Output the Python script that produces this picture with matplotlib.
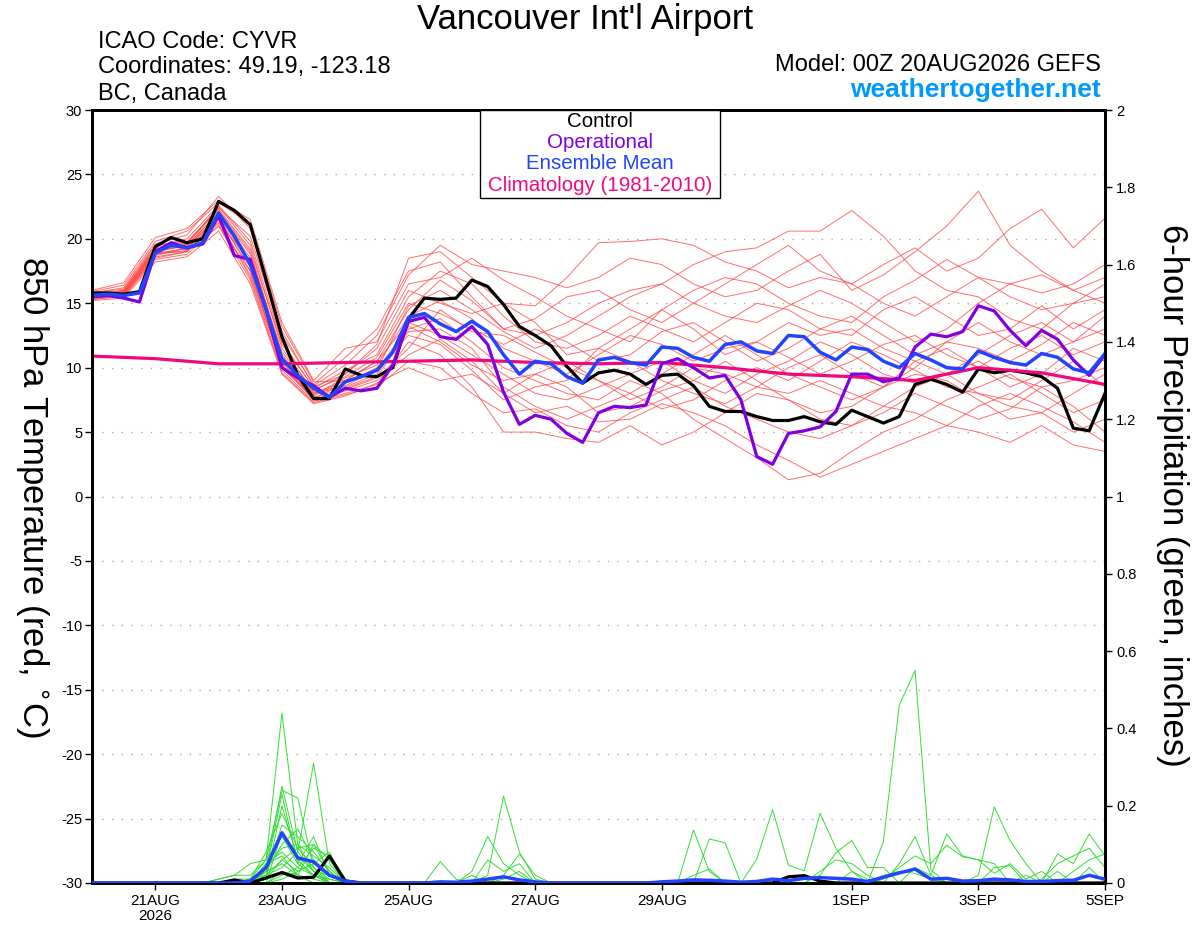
import numpy as np
import matplotlib
matplotlib.use('Agg')
import matplotlib.pyplot as plt
from matplotlib.patches import Rectangle

plt.rcParams['font.family'] = ['Liberation Sans', 'DejaVu Sans']
plt.rcParams['axes.unicode_minus'] = False

# ---- data ----
# time axis: hours after 00Z 20AUG2026
hours6 = np.arange(0, 385, 6)      # 65 six-hourly steps
hours12 = np.arange(0, 385, 12)    # 33 twelve-hourly steps (members)
hours24 = np.arange(0, 385, 24)    # 17 daily steps (climatology)

tick_hours = [24, 72, 120, 168, 216, 288, 336, 384]
tick_labels = ['21AUG\n2026', '23AUG', '25AUG', '27AUG', '29AUG', '1SEP', '3SEP', '5SEP']

# 850 hPa temperature, deg C
control_t = [15.8, 15.8, 15.7, 15.9, 19.4, 20.1, 19.7, 20.0, 22.9, 22.2, 21.1, 16.8, 12.4,
             9.4, 7.6, 7.6, 9.9, 9.4, 9.3, 10.0, 13.8, 15.4, 15.3, 15.4, 16.8, 16.3,
             14.9, 13.2, 12.5, 11.7, 10.1, 8.8, 9.6, 9.8, 9.5, 8.7, 9.4, 9.5, 8.6,
             7.0, 6.6, 6.6, 6.2, 5.9, 5.9, 6.2, 5.8, 5.6, 6.7, 6.2, 5.7, 6.2,
             8.7, 9.1, 8.7, 8.1, 9.9, 9.6, 9.8, 9.6, 9.3, 8.4, 5.3, 5.1, 8.0]
oper_t = [15.5, 15.6, 15.4, 15.1, 19.0, 19.7, 19.3, 19.6, 21.8, 18.7, 18.4, 14.5, 10.0,
          9.2, 8.6, 7.7, 8.4, 8.2, 8.4, 10.2, 13.6, 13.9, 12.4, 12.2, 13.2, 11.8,
          8.1, 5.6, 6.3, 6.0, 4.9, 4.2, 6.5, 7.0, 6.9, 7.1, 10.3, 10.7, 10.0,
          9.2, 9.4, 7.5, 3.1, 2.5, 4.9, 5.1, 5.4, 6.6, 9.5, 9.5, 8.9, 9.2,
          11.6, 12.6, 12.4, 12.8, 14.8, 14.4, 12.9, 11.7, 12.9, 12.2, 10.6, 9.4, 11.0]
mean_t = [15.6, 15.7, 15.6, 15.8, 18.9, 19.5, 19.3, 19.7, 22.0, 20.2, 18.0, 14.5, 10.7,
          9.4, 8.4, 7.7, 8.9, 9.3, 9.8, 11.2, 13.9, 14.2, 13.4, 12.8, 13.6, 12.8,
          11.0, 9.5, 10.5, 10.3, 9.3, 8.8, 10.6, 10.8, 10.4, 10.2, 11.6, 11.5, 10.8,
          10.5, 11.8, 12.0, 11.3, 11.1, 12.5, 12.4, 11.2, 10.6, 11.6, 11.4, 10.5, 10.0,
          11.1, 10.6, 10.0, 9.9, 11.3, 10.8, 10.4, 10.2, 11.1, 10.8, 9.9, 9.6, 11.1]
clim_t = [10.9, 10.7, 10.3, 10.3, 10.4, 10.5, 10.6, 10.4, 10.3, 10.4, 10.0, 9.5,
          9.3, 9.0, 10.0, 9.6, 8.7]

member_t = [
    [15.8, 16.2, 19.6, 20.3, 23.3, 20.8, 12.8, 8.6, 10.2, 12.5, 17.2,
     19.5, 18.0, 17.5, 17.0, 16.2, 17.0, 18.5, 18.0, 16.5, 15.5, 16.0,
     17.5, 18.8, 16.0, 17.2, 19.0, 21.0, 23.7, 19.5, 17.5, 16.0, 17.0],
    [15.5, 15.8, 19.0, 19.6, 22.5, 19.5, 11.5, 8.2, 9.5, 11.8, 18.5,
     19.0, 17.0, 15.0, 14.8, 17.0, 19.7, 19.8, 20.0, 19.5, 18.2, 17.5,
     16.2, 17.0, 16.5, 15.0, 14.0, 15.5, 17.0, 16.5, 15.8, 16.5, 18.0],
    [15.9, 16.4, 19.8, 20.6, 22.8, 21.2, 13.2, 8.9, 9.0, 10.5, 14.5,
     16.8, 15.2, 13.0, 12.5, 13.5, 15.0, 16.0, 16.5, 18.0, 19.0, 19.3,
     20.6, 20.6, 22.2, 20.2, 17.5, 16.0, 15.5, 13.8, 13.0, 15.0, 16.5],
    [15.3, 15.5, 18.4, 18.8, 21.0, 17.5, 10.2, 7.6, 8.2, 9.0, 11.0,
     12.2, 10.5, 8.0, 6.5, 7.0, 5.8, 6.0, 7.2, 6.5, 5.5, 4.0,
     2.8, 1.5, 2.5, 3.5, 4.5, 5.5, 5.0, 4.2, 5.5, 4.0, 3.5],
    [15.4, 15.6, 18.6, 19.0, 21.5, 17.0, 9.8, 7.4, 8.0, 8.7, 12.0,
     11.0, 8.5, 5.0, 5.0, 4.5, 4.2, 5.5, 4.0, 5.0, 6.5, 8.0,
     7.5, 6.0, 5.5, 6.5, 8.0, 7.0, 6.0, 6.8, 8.5, 7.0, 5.0],
    [15.6, 16.0, 19.2, 19.5, 22.0, 18.5, 10.8, 8.0, 8.5, 9.5, 13.0,
     13.8, 12.0, 10.0, 9.0, 8.0, 7.5, 9.0, 8.0, 6.0, 4.5, 3.0,
     1.3, 1.8, 3.5, 5.0, 6.0, 7.5, 8.5, 9.5, 8.0, 6.5, 7.5],
    [15.7, 15.9, 19.4, 20.0, 22.6, 19.8, 12.0, 8.4, 9.8, 11.0, 15.5,
     17.5, 16.5, 14.0, 12.0, 11.5, 12.5, 14.0, 13.0, 12.0, 13.5, 15.0,
     14.5, 13.0, 12.5, 14.5, 15.5, 14.0, 12.5, 13.0, 14.8, 13.0, 14.5],
    [15.5, 15.7, 18.9, 19.2, 21.8, 18.0, 10.5, 7.9, 9.2, 10.2, 14.0,
     15.2, 13.8, 11.5, 10.5, 9.5, 11.0, 12.5, 11.8, 10.5, 11.5, 12.0,
     10.8, 9.5, 10.5, 11.8, 12.5, 11.0, 10.0, 11.5, 12.5, 11.0, 12.0],
    [15.6, 15.9, 19.0, 19.5, 21.5, 17.8, 10.0, 7.8, 9.0, 10.5, 13.5,
     12.5, 11.0, 9.5, 8.0, 7.5, 8.5, 9.5, 10.5, 9.0, 8.0, 9.5,
     10.5, 12.0, 11.0, 9.5, 8.8, 9.5, 10.5, 9.2, 8.5, 9.0, 10.0],
    [15.3, 15.6, 18.5, 19.0, 21.2, 17.2, 10.2, 7.5, 8.3, 9.2, 11.5,
     14.5, 12.8, 12.5, 11.2, 10.0, 9.0, 8.0, 9.5, 11.0, 12.5, 11.0,
     9.5, 8.5, 7.5, 8.5, 10.0, 12.0, 11.5, 10.5, 11.8, 13.5, 12.5],
    [15.8, 16.1, 19.5, 19.8, 22.2, 19.0, 11.0, 8.1, 8.6, 9.8, 14.8,
     16.0, 14.5, 12.8, 11.5, 12.5, 14.0, 15.5, 16.5, 15.0, 14.0, 13.5,
     14.8, 16.0, 15.0, 13.5, 12.0, 13.0, 15.0, 16.5, 17.2, 16.0, 15.0],
    [15.4, 15.6, 18.8, 19.1, 21.0, 16.8, 9.6, 7.3, 7.9, 8.5, 10.5,
     10.0, 8.0, 6.5, 6.8, 5.5, 5.0, 6.5, 7.5, 8.5, 7.0, 6.0,
     5.0, 4.5, 5.5, 7.0, 6.5, 5.5, 7.0, 8.0, 7.0, 5.8, 4.2],
    [15.7, 16.0, 19.3, 19.7, 22.4, 20.2, 12.5, 8.7, 10.8, 13.0, 17.5,
     18.2, 15.5, 13.0, 13.8, 15.5, 16.0, 14.5, 13.5, 15.0, 16.5, 18.0,
     19.5, 17.5, 16.5, 18.0, 19.3, 17.5, 18.5, 20.8, 22.3, 19.3, 21.6],
    [15.5, 15.8, 18.7, 19.3, 21.3, 18.3, 10.4, 7.7, 8.4, 9.3, 12.8,
     13.0, 11.5, 8.5, 7.0, 6.0, 7.0, 8.0, 6.8, 7.5, 9.0, 10.0,
     9.0, 10.5, 12.0, 11.0, 9.8, 8.5, 8.0, 7.5, 9.0, 10.5, 8.5],
    [15.6, 15.9, 19.1, 19.4, 22.1, 18.8, 11.2, 8.3, 9.3, 10.8, 15.0,
     14.2, 13.0, 11.8, 13.0, 12.0, 10.5, 11.0, 12.8, 13.5, 12.0, 10.5,
     11.5, 13.0, 14.0, 12.5, 11.0, 12.0, 13.5, 12.0, 11.0, 12.0, 13.0],
    [15.2, 15.4, 18.2, 18.6, 20.6, 16.5, 9.5, 7.2, 7.8, 8.8, 10.0,
     9.0, 9.5, 8.0, 9.5, 10.5, 9.0, 7.5, 8.5, 10.0, 9.5, 8.5,
     8.0, 9.0, 8.0, 7.0, 8.5, 9.5, 8.0, 7.0, 6.5, 8.0, 9.5],
    [16.0, 16.6, 20.1, 20.8, 23.0, 21.5, 13.5, 9.0, 11.5, 12.0, 16.5,
     17.0, 18.5, 16.8, 15.5, 14.0, 13.0, 12.0, 14.5, 16.0, 17.0, 16.5,
     15.0, 14.0, 13.5, 15.5, 16.8, 18.4, 17.0, 15.5, 14.5, 15.0, 15.5],
    [15.4, 15.7, 18.9, 19.0, 21.7, 17.5, 10.0, 7.6, 8.8, 10.0, 12.5,
     11.8, 9.8, 7.5, 8.5, 9.0, 11.5, 10.5, 9.0, 8.0, 7.2, 8.5,
     10.0, 11.0, 9.5, 8.5, 10.5, 11.5, 10.0, 8.5, 9.5, 11.5, 10.5],
    [15.6, 15.8, 19.2, 19.6, 22.3, 19.2, 11.8, 8.5, 9.5, 11.5, 16.0,
     15.0, 14.2, 15.0, 13.5, 11.0, 11.5, 13.0, 14.5, 13.0, 11.0, 12.0,
     13.5, 12.5, 13.0, 11.5, 10.5, 9.5, 11.0, 12.5, 13.5, 12.0, 14.0],
    [15.5, 15.7, 18.8, 19.3, 21.9, 18.2, 10.6, 8.0, 9.0, 9.8, 13.2,
     12.0, 10.2, 9.0, 9.5, 8.5, 6.5, 7.0, 8.2, 9.0, 10.5, 9.0,
     7.5, 6.5, 7.0, 8.5, 9.5, 9.0, 7.5, 6.0, 6.5, 5.0, 6.0],
]

# 6-hour precipitation, inches
control_p = [0, 0, 0, 0, 0, 0, 0, 0, 0, 0.008, 0, 0.013, 0.027,
             0.013, 0.015, 0.07, 0.005, 0, 0, 0, 0, 0, 0, 0, 0, 0,
             0, 0, 0, 0, 0, 0, 0, 0, 0, 0, 0, 0, 0,
             0, 0, 0, 0, 0, 0.016, 0.019, 0.005, 0, 0, 0, 0, 0,
             0, 0, 0, 0, 0, 0, 0, 0, 0, 0, 0, 0, 0]
mean_p = [0, 0, 0, 0, 0, 0, 0, 0, 0, 0, 0.005, 0.04, 0.13,
          0.065, 0.055, 0.02, 0.005, 0, 0, 0, 0, 0, 0.003, 0.002, 0.005, 0.01,
          0.016, 0.008, 0.003, 0, 0, 0, 0, 0, 0, 0, 0.003, 0.005, 0.008,
          0.007, 0.005, 0.002, 0.004, 0.01, 0.006, 0.012, 0.014, 0.012, 0.01, 0.004, 0.015, 0.026,
          0.036, 0.01, 0.012, 0.005, 0.006, 0.01, 0.008, 0.004, 0.004, 0.006, 0.007, 0.02, 0.01]

member_p = [
    [0, 0, 0, 0, 0, 0, 0, 0, 0.01, 0.02, 0.05, 0.06, 0.44,
     0.10, 0.03, 0, 0, 0, 0, 0, 0, 0, 0.055, 0.01, 0, 0,
     0, 0, 0, 0, 0, 0, 0, 0, 0, 0, 0, 0, 0,
     0, 0, 0, 0, 0, 0, 0, 0, 0, 0, 0, 0, 0,
     0, 0, 0, 0, 0, 0, 0, 0, 0, 0, 0, 0, 0],
    [0, 0, 0, 0, 0, 0, 0, 0, 0, 0, 0, 0.04, 0.25,
     0.08, 0.31, 0.05, 0, 0, 0, 0, 0, 0, 0, 0, 0.03, 0.12,
     0.05, 0.02, 0, 0, 0, 0, 0, 0, 0, 0, 0, 0, 0,
     0, 0, 0, 0, 0, 0, 0, 0, 0, 0, 0, 0, 0,
     0, 0, 0, 0, 0, 0, 0, 0, 0, 0, 0, 0, 0],
    [0, 0, 0, 0, 0, 0, 0, 0, 0, 0, 0.01, 0.06, 0.24,
     0.22, 0.04, 0.01, 0, 0, 0, 0, 0, 0, 0, 0, 0, 0.02,
     0.225, 0.08, 0.01, 0, 0, 0, 0, 0, 0, 0, 0, 0, 0,
     0, 0, 0, 0, 0, 0, 0, 0, 0, 0, 0, 0, 0,
     0, 0, 0, 0, 0, 0, 0, 0, 0, 0, 0, 0, 0],
    [0, 0, 0, 0, 0, 0, 0, 0, 0, 0, 0, 0.03, 0.23,
     0.05, 0.12, 0.02, 0, 0, 0, 0, 0, 0, 0, 0, 0, 0.06,
     0.03, 0.05, 0, 0, 0, 0, 0, 0, 0, 0, 0, 0, 0,
     0, 0, 0, 0, 0, 0, 0, 0, 0, 0, 0, 0, 0,
     0, 0, 0, 0, 0, 0, 0, 0, 0, 0, 0, 0, 0],
    [0, 0, 0, 0, 0, 0, 0, 0, 0, 0.01, 0.01, 0.08, 0.18,
     0.09, 0.10, 0.06, 0, 0, 0, 0, 0, 0, 0, 0, 0, 0,
     0.02, 0.075, 0.02, 0, 0, 0, 0, 0, 0, 0, 0, 0, 0,
     0, 0, 0, 0, 0, 0, 0, 0, 0, 0, 0, 0, 0,
     0, 0, 0, 0, 0, 0, 0, 0, 0, 0, 0, 0, 0],
    [0, 0, 0, 0, 0, 0, 0, 0, 0, 0, 0, 0.02, 0.15,
     0.12, 0.08, 0.03, 0, 0, 0, 0, 0, 0, 0, 0, 0.02, 0,
     0.01, 0.03, 0, 0, 0, 0, 0, 0, 0, 0, 0, 0, 0,
     0, 0, 0, 0, 0, 0, 0, 0, 0, 0, 0, 0, 0,
     0, 0, 0, 0, 0, 0, 0, 0, 0, 0, 0, 0, 0],
    [0, 0, 0, 0, 0, 0, 0, 0, 0.01, 0.02, 0.02, 0.06, 0.12,
     0.05, 0.02, 0.01, 0, 0, 0, 0, 0, 0, 0, 0, 0, 0,
     0, 0, 0, 0, 0, 0, 0, 0, 0, 0, 0, 0, 0.137,
     0.03, 0, 0, 0, 0, 0, 0, 0, 0, 0, 0, 0, 0,
     0, 0, 0, 0, 0, 0, 0, 0, 0, 0, 0, 0, 0],
    [0, 0, 0, 0, 0, 0, 0, 0, 0, 0, 0, 0.03, 0.10,
     0.14, 0.06, 0, 0, 0, 0, 0, 0, 0, 0, 0, 0, 0,
     0, 0, 0, 0, 0, 0, 0, 0, 0, 0, 0, 0, 0,
     0.114, 0.104, 0, 0, 0, 0, 0, 0, 0, 0, 0, 0, 0,
     0, 0, 0, 0, 0, 0, 0, 0, 0, 0, 0, 0, 0],
    [0, 0, 0, 0, 0, 0, 0, 0, 0, 0, 0, 0.05, 0.08,
     0.04, 0.09, 0.07, 0.01, 0, 0, 0, 0, 0, 0, 0, 0, 0,
     0, 0, 0, 0, 0, 0, 0, 0, 0, 0, 0, 0, 0,
     0, 0, 0, 0.062, 0.19, 0.046, 0.032, 0.18, 0.09, 0.03, 0, 0, 0,
     0, 0, 0, 0, 0, 0, 0, 0, 0, 0, 0, 0, 0],
    [0, 0, 0, 0, 0, 0, 0, 0, 0, 0, 0.01, 0.02, 0.06,
     0.03, 0.05, 0.08, 0, 0, 0, 0, 0, 0, 0, 0, 0, 0,
     0, 0, 0, 0, 0, 0, 0, 0, 0, 0, 0, 0, 0,
     0, 0, 0, 0, 0, 0, 0, 0.02, 0.078, 0.11, 0.04, 0.04, 0,
     0, 0, 0, 0, 0, 0, 0, 0, 0, 0, 0, 0, 0],
    [0, 0, 0, 0, 0, 0, 0, 0, 0, 0, 0, 0.01, 0.20,
     0.06, 0.02, 0, 0, 0, 0, 0, 0, 0, 0, 0, 0, 0,
     0, 0, 0, 0, 0, 0, 0, 0, 0, 0, 0, 0, 0,
     0, 0, 0, 0, 0, 0, 0, 0, 0, 0, 0, 0.107, 0.46,
     0.55, 0.034, 0, 0, 0, 0, 0, 0, 0, 0, 0, 0, 0],
    [0, 0, 0, 0, 0, 0, 0, 0, 0, 0, 0, 0.04, 0.09,
     0.10, 0.07, 0.04, 0, 0, 0, 0, 0, 0, 0, 0, 0, 0,
     0, 0, 0, 0, 0, 0, 0, 0, 0, 0, 0, 0, 0,
     0, 0, 0, 0, 0, 0, 0, 0, 0, 0, 0, 0, 0.05,
     0.12, 0.02, 0.127, 0.07, 0.06, 0.05, 0, 0, 0, 0, 0, 0, 0],
    [0, 0, 0, 0, 0, 0, 0, 0, 0, 0, 0.01, 0.03, 0.05,
     0.02, 0.10, 0.03, 0, 0, 0, 0, 0, 0, 0, 0, 0, 0,
     0, 0, 0, 0, 0, 0, 0, 0, 0, 0, 0, 0, 0,
     0, 0, 0, 0, 0, 0, 0, 0, 0, 0, 0, 0.01, 0.04,
     0.07, 0.05, 0.098, 0.068, 0.06, 0.025, 0.05, 0.01, 0.03, 0, 0, 0, 0],
    [0, 0, 0, 0, 0, 0, 0, 0, 0, 0, 0, 0, 0.13,
     0.07, 0.03, 0, 0, 0, 0, 0, 0, 0, 0, 0, 0, 0,
     0, 0, 0, 0, 0, 0, 0, 0, 0, 0, 0, 0, 0,
     0, 0, 0, 0, 0, 0, 0, 0, 0, 0, 0, 0, 0,
     0, 0, 0, 0, 0.02, 0.197, 0.11, 0.05, 0, 0, 0, 0, 0],
    [0, 0, 0, 0, 0, 0, 0, 0, 0, 0, 0, 0.02, 0.04,
     0.08, 0.03, 0.02, 0, 0, 0, 0, 0, 0, 0, 0, 0, 0,
     0, 0, 0, 0, 0, 0, 0, 0, 0, 0, 0, 0, 0,
     0, 0, 0, 0, 0, 0, 0, 0, 0, 0, 0, 0, 0,
     0, 0, 0, 0, 0, 0, 0, 0.02, 0, 0.075, 0.05, 0.127, 0.07],
    [0, 0, 0, 0, 0, 0, 0, 0, 0, 0, 0, 0.05, 0.07,
     0.02, 0.01, 0, 0, 0, 0, 0, 0, 0, 0, 0, 0, 0,
     0, 0, 0, 0, 0, 0, 0, 0, 0, 0, 0, 0, 0,
     0, 0, 0, 0, 0, 0, 0, 0, 0, 0, 0, 0, 0,
     0, 0, 0, 0, 0, 0, 0, 0, 0.01, 0.05, 0.07, 0.09, 0.04],
    [0, 0, 0, 0, 0, 0, 0, 0, 0, 0, 0, 0, 0.03,
     0.02, 0, 0, 0, 0, 0, 0, 0, 0, 0, 0, 0, 0,
     0, 0, 0, 0, 0, 0, 0, 0, 0, 0, 0, 0, 0,
     0, 0, 0, 0, 0, 0, 0, 0, 0, 0.03, 0.01, 0, 0,
     0.04, 0.02, 0, 0, 0, 0, 0, 0, 0, 0, 0.03, 0.06, 0.075],
    [0, 0, 0, 0, 0, 0, 0, 0, 0, 0, 0, 0, 0.02,
     0.04, 0.02, 0, 0, 0, 0, 0, 0, 0, 0, 0, 0, 0,
     0, 0, 0, 0, 0, 0, 0, 0, 0, 0, 0, 0, 0.02,
     0.036, 0, 0, 0, 0, 0, 0, 0.03, 0.06, 0.05, 0.02, 0, 0,
     0, 0, 0, 0, 0, 0, 0, 0, 0, 0, 0, 0, 0],
    [0, 0, 0, 0, 0, 0, 0, 0, 0, 0, 0, 0, 0.01,
     0.03, 0.05, 0.02, 0, 0, 0, 0, 0, 0, 0, 0, 0, 0,
     0, 0, 0, 0, 0, 0, 0, 0, 0, 0, 0, 0, 0,
     0, 0, 0, 0, 0, 0, 0, 0, 0, 0, 0, 0, 0,
     0, 0, 0, 0, 0, 0.04, 0.045, 0, 0, 0.03, 0, 0.04, 0],
    [0, 0, 0, 0, 0, 0, 0, 0, 0, 0, 0, 0.01, 0.06,
     0.09, 0.04, 0, 0, 0, 0, 0, 0, 0, 0, 0, 0, 0,
     0, 0, 0, 0, 0, 0, 0, 0, 0, 0, 0, 0, 0,
     0, 0, 0, 0, 0, 0, 0, 0, 0, 0, 0, 0.02, 0.03,
     0.025, 0.01, 0, 0, 0, 0, 0, 0, 0, 0, 0, 0, 0],
]

# ---- colours ----
c_member_t = '#ff4a4a'
c_member_p = '#33dd33'
c_control = 'black'
c_oper = '#8000e0'
c_mean = '#2244ff'
c_clim = '#f0087c'
c_site = '#0099ff'

W, H = 1200, 927
fig = plt.figure(figsize=(W / 100, H / 100), dpi=100)
ax = fig.add_axes([92 / W, 44 / H, 1013 / W, 773 / H])
ax2 = ax.twinx()

# temperature
for m in member_t:
    ax.plot(hours12, m, color=c_member_t, lw=0.7, alpha=0.8, zorder=2)
ax.plot(hours6, control_t, color=c_control, lw=2.3, zorder=3)
ax.plot(hours24, clim_t, color=c_clim, lw=2.3, zorder=4)
ax.plot(hours6, oper_t, color=c_oper, lw=2.3, zorder=5)
ax.plot(hours6, mean_t, color=c_mean, lw=2.5, zorder=6)

for yv in range(-25, 30, 5):
    ax.axhline(yv, color='#aaaaaa', lw=1, ls=(0, (1, 6)), zorder=1)

ax.set_xlim(0, 384)
ax.set_ylim(-30, 30)
ax.set_yticks(range(-30, 31, 5))
ax.set_xticks(tick_hours)
ax.set_xticklabels(tick_labels, linespacing=1.05)
ax.tick_params(axis='y', direction='out', length=5, width=1, labelsize=10.5, pad=2)
ax.tick_params(axis='x', direction='out', length=5, width=1, labelsize=11, pad=3)

# precipitation
for m in member_p:
    ax2.plot(hours6, m, color=c_member_p, lw=0.7, zorder=2)
ax2.plot(hours6, control_p, color=c_control, lw=2.3, zorder=3)
ax2.plot(hours6, mean_p, color=c_mean, lw=2.5, zorder=4)
ax2.set_ylim(0, 2)
ax2.set_xlim(0, 384)
p_ticks = np.arange(0, 2.01, 0.2)
ax2.set_yticks(p_ticks)
ax2.set_yticklabels(['0', '0.2', '0.4', '0.6', '0.8', '1', '1.2', '1.4', '1.6', '1.8', '2'])
ax2.tick_params(axis='y', direction='out', length=5, width=1, labelsize=10.5, pad=3)

for a in (ax, ax2):
    for s in a.spines.values():
        s.set_linewidth(2)

# legend box
ax2.add_patch(Rectangle((388 / 1013, 685 / 773), 240 / 1013, 88 / 773,
                        transform=ax2.transAxes, facecolor='white',
                        edgecolor='black', lw=1, zorder=10))
leg_items = [('Control', c_control, 121), ('Operational', c_oper, 142),
             ('Ensemble Mean', c_mean, 163), ('Climatology (1981-2010)', c_clim, 185)]
for txt, col, ypx in leg_items:
    ax2.text(508 / 1013, (883 - ypx) / 773, txt, color=col, fontsize=14.8,
             ha='center', va='center', transform=ax2.transAxes, zorder=11)

# header texts
fig.text(585 / W, 1 - 19 / H, "Vancouver Int'l Airport", fontsize=25, ha='center', va='center')
fig.text(98 / W, 1 - 48 / H, 'ICAO Code: CYVR', fontsize=17, va='baseline')
fig.text(98 / W, 1 - 73 / H, 'Coordinates: 49.19, -123.18', fontsize=17, va='baseline')
fig.text(98 / W, 1 - 100 / H, 'BC, Canada', fontsize=17, va='baseline')
fig.text(1101 / W, 1 - 71 / H, 'Model: 00Z 20AUG2026 GEFS', fontsize=17, ha='right', va='baseline')
fig.text(1101 / W, 1 - 97 / H, 'weathertogether.net', fontsize=19, fontweight='bold',
         color=c_site, ha='right', va='baseline')

fig.text(32 / W, 1 - 497 / H, '850 hPa Temperature (red, $^{\\circ}$C)', fontsize=25,
         rotation=270, ha='center', va='center')
fig.text(1172 / W, 1 - 495 / H, '6-hour Precipitation (green, inches)', fontsize=25,
         rotation=270, ha='center', va='center')

fig.savefig('out.png', dpi=100)
